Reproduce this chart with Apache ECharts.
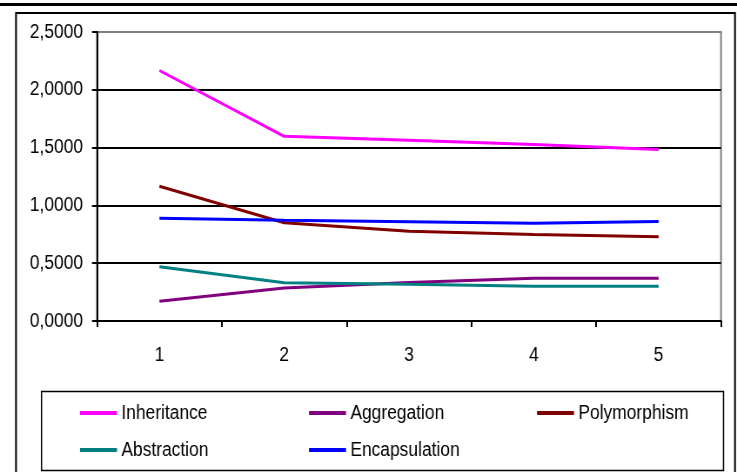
<!DOCTYPE html>
<html>
<head>
<meta charset="utf-8">
<script src="https://cdn.jsdelivr.net/npm/echarts@6/dist/echarts.min.js"></script>
<style>
html,body{margin:0;padding:0;background:#fff;overflow:hidden;width:737px;height:472px;}
#c{width:847px;height:472px;transform:scaleX(0.87013);transform-origin:0 0;}
</style>
</head>
<body>
<div id="c"></div>
<script>
const categories = ['1', '2', '3', '4', '5'];
const seriesNames = ['Inheritance', 'Aggregation', 'Polymorphism', 'Abstraction', 'Encapsulation'];
const inheritance = [2.167, 1.598, 1.563, 1.526, 1.483];
const aggregation = [0.170, 0.285, 0.332, 0.369, 0.369];
const polymorphism = [1.166, 0.850, 0.777, 0.749, 0.729];
const abstraction = [0.470, 0.331, 0.317, 0.300, 0.300];
const encapsulation = [0.889, 0.872, 0.858, 0.846, 0.861];
const colors = ['#FF00FF', '#800080', '#800000', '#008080', '#0000FF'];
const yTicks = [0, 0.5, 1.0, 1.5, 2.0, 2.5];

const values = [inheritance, aggregation, polymorphism, abstraction, encapsulation];
const FONT = '"Liberation Sans", Arial, sans-serif';
const S = 737 / 847; // horizontal compression applied by CSS
const X = v => v / S;

const legendPos = [
  {left: 80, top: 403}, {left: 309, top: 403}, {left: 537, top: 403},
  {left: 80, top: 440}, {left: 309, top: 440}
];

const chart = echarts.init(document.getElementById('c'), null, {renderer: 'canvas'});
chart.setOption({
  animation: false,
  backgroundColor: '#fff',
  grid: {left: X(97), right: X(16), top: 32, bottom: 151, show: true, borderColor: '#808080', borderWidth: 2, backgroundColor: 'transparent'},
  xAxis: {
    type: 'category', data: categories, boundaryGap: true,
    axisLine: {lineStyle: {color: '#000', width: 2}},
    axisTick: {show: true, length: 6, lineStyle: {color: '#000', width: 2}},
    axisLabel: {color: '#000', fontSize: 20, fontFamily: FONT, margin: 24},
    splitLine: {show: false}
  },
  yAxis: {
    type: 'value', min: 0, max: 2.5, interval: 0.5,
    axisLine: {show: true, lineStyle: {color: '#000', width: 2}},
    axisTick: {show: true, length: X(5), lineStyle: {color: '#000', width: 2}},
    axisLabel: {color: '#000', fontSize: 20, fontFamily: FONT, margin: X(14),
      formatter: v => v.toFixed(4).replace('.', ',')},
    splitLine: {show: true, lineStyle: {color: ['#000', '#000', '#000', '#000', '#000', '#808080'], width: 2}}
  },
  legend: seriesNames.map((n, i) => ({
    data: [n], left: X(legendPos[i].left), top: legendPos[i].top, padding: 0,
    icon: 'rect', itemWidth: X(37), itemHeight: 4, itemGap: 0,
    textStyle: {color: '#000', fontSize: 20, fontFamily: FONT}
  })),
  series: seriesNames.map((n, i) => ({
    name: n, type: 'line', data: values[i], showSymbol: false, symbol: 'none',
    lineStyle: {color: colors[i], width: 3}, itemStyle: {color: colors[i]}
  })),
  graphic: [
    {type: 'line', shape: {x1: 0, y1: 4.5, x2: X(737), y2: 4.5}, style: {stroke: '#000', lineWidth: 3}},
    {type: 'rect', shape: {x: X(16), y: 13, width: X(719), height: 470}, style: {fill: 'none', stroke: '#000', lineWidth: 2}},
    {type: 'rect', shape: {x: X(41.5), y: 391.5, width: X(682), height: 79}, style: {fill: 'none', stroke: '#000', lineWidth: 1.5}}
  ]
});
</script>
</body>
</html>
